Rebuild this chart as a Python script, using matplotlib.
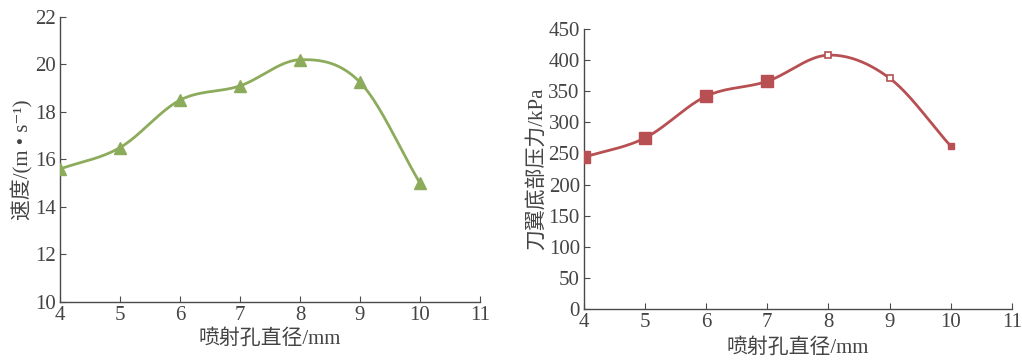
import numpy as np
import matplotlib
matplotlib.use("Agg")
import matplotlib.pyplot as plt

# ---- data ----
diameter = [4, 5, 6, 7, 8, 9, 10]
velocity = [15.6, 16.5, 18.5, 19.1, 20.2, 19.25, 15.0]
pressure = [244, 275, 342, 366, 408, 371, 262]

left_xticks = [4, 5, 6, 7, 8, 9, 10, 11]
left_yticks = [10, 12, 14, 16, 18, 20, 22]
right_yticks = [0, 50, 100, 150, 200, 250, 300, 350, 400, 450]

xlabel = "喷射孔直径/mm"
ylabel_left = "速度/(m • s⁻¹)"
ylabel_right = "刀翼底部压力/kPa"

GREEN = "#8cac5c"
RED = "#b84f52"
AXC = "#4a4a4a"
TXT = "#444444"

plt.rcParams['font.family'] = ['Liberation Serif', 'Noto Sans CJK SC', 'DejaVu Sans']


def smooth(x, y, n=40):
    """Catmull-Rom style cubic Hermite through the points."""
    x = np.asarray(x, float); y = np.asarray(y, float)
    m = len(x)
    t = np.empty(m)
    t[1:-1] = (y[2:] - y[:-2]) / (x[2:] - x[:-2])
    t[0] = (y[1] - y[0]) / (x[1] - x[0])
    t[-1] = (y[-1] - y[-2]) / (x[-1] - x[-2])
    xs_all, ys_all = [], []
    for i in range(m - 1):
        h = x[i + 1] - x[i]
        s = np.linspace(0, 1, n)
        h00 = 2 * s**3 - 3 * s**2 + 1
        h10 = s**3 - 2 * s**2 + s
        h01 = -2 * s**3 + 3 * s**2
        h11 = s**3 - s**2
        xs_all.append(x[i] + s * h)
        ys_all.append(h00 * y[i] + h10 * h * t[i] + h01 * y[i + 1] + h11 * h * t[i + 1])
    return np.concatenate(xs_all), np.concatenate(ys_all)


def style(ax):
    for s in ['top', 'right']:
        ax.spines[s].set_visible(False)
    for s in ['left', 'bottom']:
        ax.spines[s].set_color(AXC)
        ax.spines[s].set_linewidth(1.0)
    ax.tick_params(direction='in', length=4, width=0.8, color=AXC,
                   labelsize=15, labelcolor=TXT, pad=3)


fig = plt.figure(figsize=(10.22, 3.62), dpi=100)

# left
ax1 = fig.add_axes([0.0587, 0.166, 0.411, 0.787])
xs, ys = smooth(diameter, velocity)
ax1.plot(xs, ys, color=GREEN, lw=2.0, zorder=2)
ax1.plot(diameter, velocity, ls='none', marker='^', ms=9, color=GREEN, zorder=3)
ax1.set_xlim(4, 11); ax1.set_ylim(10, 22)
ax1.set_xticks(left_xticks); ax1.set_yticks(left_yticks)
style(ax1)
ax1.set_xlabel(xlabel, fontsize=15, color=TXT, labelpad=3)
ax1.set_ylabel(ylabel_left, fontsize=15, color=TXT, labelpad=1)

# right
ax2 = fig.add_axes([0.5714, 0.146, 0.4186, 0.774])
xs, ys = smooth(diameter, pressure)
ax2.plot(xs, ys, color=RED, lw=2.0, zorder=2)
ax2.plot(diameter[:4], pressure[:4], ls='none', marker='s', ms=8, color=RED, zorder=3)
ax2.plot(diameter[4:6], pressure[4:6], ls='none', marker='s', ms=5, mfc='white',
         mec=RED, mew=1.2, zorder=3)
ax2.plot(diameter[6:], pressure[6:], ls='none', marker='s', ms=5, mfc=RED,
         mec=RED, zorder=3)
ax2.set_xlim(4, 11); ax2.set_ylim(0, 450)
ax2.set_xticks(left_xticks); ax2.set_yticks(right_yticks)
style(ax2)
ax2.set_xlabel(xlabel, fontsize=15, color=TXT, labelpad=4)
ax2.set_ylabel(ylabel_right, fontsize=15, color=TXT, labelpad=1)

fig.savefig("out.png", dpi=100)
